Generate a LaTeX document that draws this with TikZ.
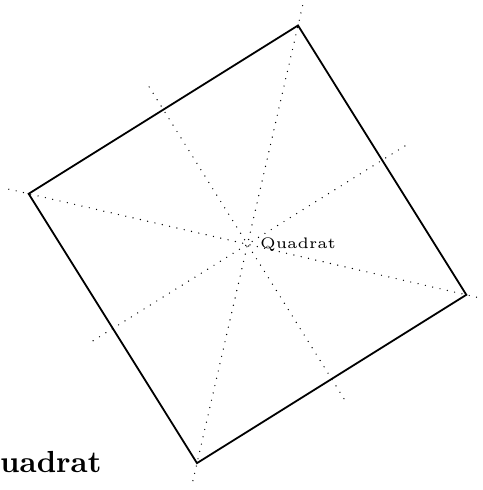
\documentclass[tikz,border=0pt]{standalone}
\begin{document}
\begin{tikzpicture}[x=1pt,y=1pt,
  edge/.style={line width=1.8pt,line join=miter},
  guide/.style={line width=1.4pt,line cap=round,dash pattern=on 0pt off 7.5pt},
  lbl/.style={inner sep=0pt,scale=3.05}]
\useasboundingbox (0,0) rectangle (482,-490);
\coordinate (O) at (247.5,-244.3);
\begin{scope}[shift={(O)},rotate=32]
  \coordinate (A) at (158.8,158.8);
  \coordinate (B) at (158.8,-158.8);
  \coordinate (C) at (-158.8,-158.8);
  \coordinate (D) at (-158.8,158.8);
  \coordinate (dA) at (173.2,173.2);
  \coordinate (dC) at (-173.2,-173.2);
  \coordinate (dB) at (173.2,-173.2);
  \coordinate (dD) at (-173.2,173.2);
  \coordinate (mE) at (185.5,0);
  \coordinate (mW) at (-185.5,0);
  \coordinate (mN) at (0,185.5);
  \coordinate (mS) at (0,-185.5);
  \draw[guide] (dA) -- (dC);
  \draw[guide] (dD) -- (dB);
  \draw[guide] (mE) -- (mW);
  \draw[guide] (mN) -- (mS);
  \draw[edge] (A) -- (B) -- (C) -- (D) -- cycle;
\end{scope}
\node[lbl,anchor=base west] (small) at (259.5,-248) {\tiny Quadrat};
\node[lbl,anchor=base east] (big) at (102,-472) {\bfseries Quadrat};
\end{tikzpicture}
\end{document}
